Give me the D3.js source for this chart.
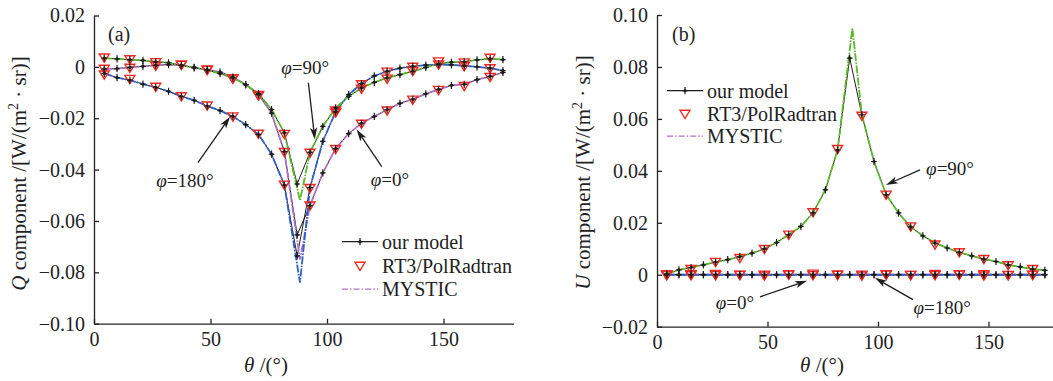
<!DOCTYPE html>
<html>
<head>
<meta charset="utf-8">
<script src="https://cdn.jsdelivr.net/npm/d3@7"></script>
<style>
  body { margin: 0; background: #fff; }
  svg { display: block; font-family: "Liberation Serif", "Times New Roman", serif; }
  .axis path, .axis line { stroke: #222; stroke-width: 1.3; }
  .axis text { font-size: 20px; fill: #222; font-family: "Liberation Serif", serif; }
  .lbl { fill: #222; }
</style>
</head>
<body>
<svg id="chart" width="1053" height="381"></svg>
<script>
// 模型输出的散射角 θ（度）
var theta = [4.4, 9.9, 15.4, 21.0, 26.5, 32.0, 37.5, 43.0, 48.6, 54.1, 59.6, 65.1, 70.6, 76.2, 81.7, 87.2,
  92.7, 98.2, 103.7, 109.3, 114.8, 120.3, 125.8, 131.3, 136.8, 142.4, 147.9, 153.4, 158.9, 164.4, 170.0, 175.5];
// RT3/PolRadtran 的角度点
var thetaRT3 = [4.4, 15.4, 26.5, 37.5, 48.6, 59.6, 70.6, 81.7, 92.7, 103.7, 114.8, 125.8, 136.8, 147.9, 158.9, 170.0];
// MYSTIC 的角度点（极值处更细）
var thetaMystic = [4.4, 9.9, 15.4, 21.0, 26.5, 32.0, 37.5, 43.0, 48.6, 54.1, 59.6, 65.1, 70.6, 76.2, 81.7, 88.4,
  92.7, 98.2, 103.7, 109.3, 114.8, 120.3, 125.8, 131.3, 136.8, 142.4, 147.9, 153.4, 158.9, 164.4, 170.0, 175.5];

var thetaTicks = [0, 50, 100, 150];
var qTicks = [-0.10, -0.08, -0.06, -0.04, -0.02, 0, 0.02];
var uTicks = [-0.02, 0, 0.02, 0.04, 0.06, 0.08, 0.10];

// Q 分量 —— 本文模型
var qModel0 = [-0.0008, -0.0007, -0.0002, 0.0002, 0.0006, 0.0009, 0.0006, -0.0004, -0.0011, -0.0020, -0.0040, -0.0069, -0.0108, -0.0180, -0.0330, -0.0654,
  -0.0540, -0.0413, -0.0318, -0.0260, -0.0220, -0.0193, -0.0167, -0.0142, -0.0126, -0.0105, -0.0088, -0.0072, -0.0068, -0.0050, -0.0037, -0.0022];
var qModel90 = [0.0034, 0.0031, 0.0028, 0.0025, 0.0020, 0.0016, 0.0006, -0.0002, -0.0013, -0.0026, -0.0043, -0.0069, -0.0104, -0.0166, -0.0257, -0.0456,
  -0.0333, -0.0232, -0.0160, -0.0115, -0.0082, -0.0060, -0.0043, -0.0030, -0.0017, -0.0002, 0.0012, 0.0018, 0.0020, 0.0027, 0.0032, 0.0028];
var qModel180 = [-0.0025, -0.0042, -0.0052, -0.0067, -0.0080, -0.0095, -0.0115, -0.0130, -0.0153, -0.0170, -0.0193, -0.0225, -0.0263, -0.0340, -0.0460, -0.0736,
  -0.0470, -0.0290, -0.0175, -0.0108, -0.0065, -0.0035, -0.0017, -0.0005, 0.0002, 0.0007, 0.0009, 0.0008, 0.0004, 0.0000, -0.0005, -0.0015];

// Q 分量 —— RT3/PolRadtran
var qRT3_0 = [-0.0008, -0.0004, 0.0004, 0.0008, -0.0012, -0.0046, -0.0110, -0.0332, -0.0540, -0.0320, -0.0222, -0.0170, -0.0128, -0.0090, -0.0075, -0.0040];
var qRT3_90 = [0.0036, 0.0029, 0.0018, 0.0008, -0.0010, -0.0045, -0.0112, -0.0262, -0.0335, -0.0170, -0.0085, -0.0046, -0.0016, 0.0021, 0.0017, 0.0035];
var qRT3_180 = [-0.0030, -0.0047, -0.0078, -0.0115, -0.0151, -0.0193, -0.0261, -0.0459, -0.0472, -0.0178, -0.0068, -0.0019, 0.0000, 0.0009, 0.0002, -0.0006];

// Q 分量 —— MYSTIC
var qMystic0 = [-0.0008, -0.0007, -0.0002, 0.0002, 0.0006, 0.0009, 0.0006, -0.0004, -0.0011, -0.0020, -0.0040, -0.0069, -0.0108, -0.0180, -0.0330, -0.0750,
  -0.0540, -0.0413, -0.0318, -0.0260, -0.0220, -0.0193, -0.0167, -0.0142, -0.0126, -0.0105, -0.0088, -0.0072, -0.0068, -0.0050, -0.0037, -0.0022];
var qMystic90 = [0.0034, 0.0031, 0.0028, 0.0025, 0.0020, 0.0016, 0.0006, -0.0002, -0.0013, -0.0026, -0.0043, -0.0069, -0.0104, -0.0166, -0.0257, -0.0520,
  -0.0333, -0.0232, -0.0160, -0.0115, -0.0082, -0.0060, -0.0043, -0.0030, -0.0017, -0.0002, 0.0012, 0.0018, 0.0020, 0.0027, 0.0032, 0.0028];
var qMystic180 = [-0.0025, -0.0042, -0.0052, -0.0067, -0.0080, -0.0095, -0.0115, -0.0130, -0.0153, -0.0170, -0.0193, -0.0225, -0.0263, -0.0340, -0.0460, -0.0840,
  -0.0470, -0.0290, -0.0175, -0.0108, -0.0065, -0.0035, -0.0017, -0.0005, 0.0002, 0.0007, 0.0009, 0.0008, 0.0004, 0.0000, -0.0005, -0.0015];

// U 分量 —— 本文模型
var uModel0 = [0, 0, 0, 0, 0, 0, 0, 0, 0, 0, 0, 0, 0, 0, 0, 0, 0, 0, 0, 0, 0, 0, 0, 0, 0, 0, 0, 0, 0, 0, 0, 0];
var uModel90 = [0.0003, 0.0019, 0.0028, 0.0038, 0.0049, 0.0058, 0.0070, 0.0083, 0.0100, 0.0124, 0.0154, 0.0186, 0.0238, 0.0327, 0.0480, 0.0834,
  0.0616, 0.0436, 0.0308, 0.0238, 0.0184, 0.0150, 0.0122, 0.0103, 0.0086, 0.0073, 0.0060, 0.0051, 0.0038, 0.0030, 0.0022, 0.0017];
var uModel180 = [0, 0, 0, 0, 0, 0, 0, 0, 0, 0, 0, 0, 0, 0, 0, 0, 0, 0, 0, 0, 0, 0, 0, 0, 0, 0, 0, 0, 0, 0, 0, 0];

// U 分量 —— RT3/PolRadtran
var uRT3_0 = [0.0000, -0.0002, 0.0003, -0.0001, 0.0000, 0.0002, 0.0004, -0.0001, 0.0000, 0.0002, -0.0001, 0.0003, 0.0000, 0.0002, -0.0001, 0.0000];
var uRT3_90 = [0.0002, 0.0022, 0.0049, 0.0064, 0.0099, 0.0154, 0.0240, 0.0484, 0.0612, 0.0308, 0.0186, 0.0116, 0.0086, 0.0060, 0.0036, 0.0022];
var uRT3_180 = [-0.0002, 0.0002, -0.0002, 0.0000, -0.0003, 0.0000, -0.0002, 0.0001, -0.0003, 0.0000, -0.0001, -0.0002, 0.0002, -0.0003, -0.0002, -0.0001];

// U 分量 —— MYSTIC
var uMystic0 = [0, 0, 0, 0, 0, 0, 0, 0, 0, 0, 0, 0, 0, 0, 0, 0, 0, 0, 0, 0, 0, 0, 0, 0, 0, 0, 0, 0, 0, 0, 0, 0];
var uMystic90 = [0.0003, 0.0019, 0.0028, 0.0038, 0.0049, 0.0058, 0.0070, 0.0083, 0.0100, 0.0124, 0.0154, 0.0186, 0.0238, 0.0327, 0.0480, 0.0950,
  0.0616, 0.0436, 0.0308, 0.0238, 0.0184, 0.0150, 0.0122, 0.0103, 0.0086, 0.0073, 0.0060, 0.0051, 0.0038, 0.0030, 0.0022, 0.0017];
var uMystic180 = [0, 0, 0, 0, 0, 0, 0, 0, 0, 0, 0, 0, 0, 0, 0, 0, 0, 0, 0, 0, 0, 0, 0, 0, 0, 0, 0, 0, 0, 0, 0, 0];

var C_GREEN = "#5cb82e", C_PURPLE = "#b072c6", C_BLUE = "#2d62c4", C_RED = "#ec2a22", C_INK = "#1e1e1e";
var DASH = "8,1.3,1.6,1.3";      // 曲线上的点划线，间隙较小
var DASH_LEG = "6,2,1.6,2";      // 图例里的点划线

var panels = [
  {
    tag: "(a)", varName: "Q",
    left: 94, right: 513.4, top: 15.5, bottom: 323.7,
    yDomain: [-0.10, 0.02], yTicks: qTicks,
    series: [
      { model: qModel0, rt3: qRT3_0, mystic: qMystic0, color: C_PURPLE },
      { model: qModel180, rt3: qRT3_180, mystic: qMystic180, color: C_BLUE },
      { model: qModel90, rt3: qRT3_90, mystic: qMystic90, color: C_GREEN }
    ],
    legend: { x: 342, y: 241.7, gap: 24.2 },
    tagPos: { x: 108, y: 41 },
    yTitle: { x: 26, y: 173.5 },
    xTitle: { x: 266, y: 372 },
    // φ 标注：文字中心与箭头（数据坐标）
    notes: [
      { phi: "90°", at: [90.6, -0.0003], from: [92.0, -0.0062], to: [94.8, -0.0283] },
      { phi: "180°", at: [39.0, -0.0443], from: [44.6, -0.0373], to: [58.4, -0.0194] },
      { phi: "0°", at: [127.0, -0.0439], from: [123.5, -0.0388], to: [112.7, -0.0244] }
    ]
  },
  {
    tag: "(b)", varName: "U",
    left: 657, right: 1054.8, top: 15, bottom: 326.7,
    yDomain: [-0.02, 0.10], yTicks: uTicks,
    series: [
      { model: uModel90, rt3: uRT3_90, mystic: uMystic90, color: C_GREEN },
      { model: uModel0, rt3: uRT3_0, mystic: uMystic0, color: C_PURPLE },
      { model: uModel180, rt3: uRT3_180, mystic: uMystic180, color: C_BLUE }
    ],
    legend: { x: 667, y: 90.7, gap: 23.2 },
    tagPos: { x: 672, y: 41 },
    yTitle: { x: 590, y: 172.5 },
    xTitle: { x: 822, y: 372 },
    notes: [
      { phi: "90°", at: [132.6, 0.0408], from: [119.0, 0.0404], to: [103.6, 0.0346] },
      { phi: "0°", at: [35.3, -0.0108], from: [46.6, -0.0085], to: [67.9, -0.0023] },
      { phi: "180°", at: [129.0, -0.0127], from: [115.8, -0.0096], to: [98.6, -0.0012] }
    ]
  }
];

var svg = d3.select("#chart");

var triPath = "M-5,-3.6L5,-3.6L0,4.6Z";
var plusPath = "M-2.8,0H2.8M0,-3.6V3.6";

function tickFmt(d) {
  return d === 0 ? "0" : d3.format(".2f")(d);
}

// 模型标记：十字加实心点
function drawModelMark(sel) {
  sel.append("path").attr("d", plusPath)
    .attr("stroke", C_INK).attr("stroke-width", 1.2).attr("fill", "none");
  sel.append("circle").attr("r", 1.6).attr("fill", C_INK);
}

// 带实心箭头的引线
function drawArrow(g, x1, y1, x2, y2) {
  var ang = Math.atan2(y2 - y1, x2 - x1), len = 12, hw = 3.6;
  var bx = x2 - len * Math.cos(ang), by = y2 - len * Math.sin(ang);
  var nx = -Math.sin(ang), ny = Math.cos(ang);
  var mx = x2 - (len - 3) * Math.cos(ang), my = y2 - (len - 3) * Math.sin(ang);
  g.append("line").attr("x1", x1).attr("y1", y1).attr("x2", mx).attr("y2", my)
    .attr("stroke", C_INK).attr("stroke-width", 1.3);
  g.append("path")
    .attr("d", "M" + x2 + "," + y2 + "L" + (bx + nx * hw) + "," + (by + ny * hw) +
      "L" + mx + "," + my + "L" + (bx - nx * hw) + "," + (by - ny * hw) + "Z")
    .attr("fill", C_INK);
}

function drawPanel(p) {
  var x = d3.scaleLinear().domain([0, 180]).range([p.left, p.right]);
  var y = d3.scaleLinear().domain(p.yDomain).range([p.bottom, p.top]);
  var g = svg.append("g");

  // 坐标轴，刻度朝内
  g.append("g").attr("class", "axis")
    .attr("transform", "translate(0," + p.bottom + ")")
    .call(d3.axisBottom(x).tickValues(thetaTicks).tickSizeInner(-5).tickSizeOuter(0)
      .tickPadding(8).tickFormat(d3.format("d")));
  g.append("g").attr("class", "axis")
    .attr("transform", "translate(" + p.left + ",0)")
    .call(d3.axisLeft(y).tickValues(p.yTicks).tickSizeInner(-5).tickSizeOuter(0)
      .tickPadding(9).tickFormat(tickFmt));

  var modelLine = d3.line().x(function (d) { return x(d[0]); }).y(function (d) { return y(d[1]); });

  // 先画黑色模型线，再叠加 MYSTIC 点划线
  p.series.forEach(function (s) {
    g.append("path").datum(d3.zip(theta, s.model)).attr("d", modelLine)
      .attr("fill", "none").attr("stroke", C_INK).attr("stroke-width", 1.0);
  });
  p.series.forEach(function (s) {
    g.append("path").datum(d3.zip(thetaMystic, s.mystic)).attr("d", modelLine)
      .attr("fill", "none").attr("stroke", s.color).attr("stroke-width", 1.8)
      .attr("stroke-dasharray", DASH);
  });
  // RT3 倒三角
  p.series.forEach(function (s) {
    g.selectAll(null).data(d3.zip(thetaRT3, s.rt3)).enter().append("path")
      .attr("d", triPath)
      .attr("transform", function (d) { return "translate(" + x(d[0]) + "," + y(d[1]) + ")"; })
      .attr("fill", "none").attr("stroke", C_RED).attr("stroke-width", 1.4);
  });
  // 模型数据点
  p.series.forEach(function (s) {
    g.selectAll(null).data(d3.zip(theta, s.model)).enter().append("g")
      .attr("transform", function (d) { return "translate(" + x(d[0]) + "," + y(d[1]) + ")"; })
      .call(drawModelMark);
  });

  // φ 标注
  p.notes.forEach(function (n) {
    var t = g.append("text").attr("class", "lbl")
      .attr("x", x(n.at[0])).attr("y", y(n.at[1])).attr("dy", "0.35em")
      .attr("text-anchor", "middle").attr("font-size", 19);
    t.append("tspan").attr("font-style", "italic").text("φ");
    t.append("tspan").text("=" + n.phi);
    drawArrow(g, x(n.from[0]), y(n.from[1]), x(n.to[0]), y(n.to[1]));
  });

  // 图例
  var L = p.legend;
  var lg = g.append("g").attr("transform", "translate(" + L.x + "," + L.y + ")");
  lg.append("line").attr("x1", 0).attr("x2", 36).attr("stroke", C_INK).attr("stroke-width", 1.2);
  lg.append("g").attr("transform", "translate(18,0)").call(drawModelMark);
  lg.append("path").attr("d", triPath).attr("transform", "translate(18," + L.gap + ")")
    .attr("fill", "none").attr("stroke", C_RED).attr("stroke-width", 1.4);
  lg.append("line").attr("x1", 0).attr("x2", 36).attr("y1", L.gap * 2 - 1).attr("y2", L.gap * 2 - 1)
    .attr("stroke", C_PURPLE).attr("stroke-width", 1.4).attr("stroke-dasharray", DASH_LEG);
  ["our model", "RT3/PolRadtran", "MYSTIC"].forEach(function (name, i) {
    lg.append("text").attr("class", "lbl").attr("x", 40).attr("y", i * L.gap - (i === 2 ? 1 : 0))
      .attr("dy", "0.35em").attr("font-size", 20).text(name);
  });

  // 子图编号
  g.append("text").attr("class", "lbl").attr("x", p.tagPos.x).attr("y", p.tagPos.y)
    .attr("font-size", 20).text(p.tag);

  // 轴标题
  var yt = g.append("text").attr("class", "lbl").attr("font-size", 21)
    .attr("text-anchor", "middle")
    .attr("transform", "translate(" + p.yTitle.x + "," + p.yTitle.y + ") rotate(-90)");
  yt.append("tspan").attr("font-style", "italic").text(p.varName);
  yt.append("tspan").text(" component /[W/(m");
  yt.append("tspan").attr("dy", -8).attr("font-size", 14).text("2");
  yt.append("tspan").attr("dy", 8).text(" · sr)]");

  var xt = g.append("text").attr("class", "lbl").attr("font-size", 21)
    .attr("text-anchor", "middle").attr("x", p.xTitle.x).attr("y", p.xTitle.y);
  xt.append("tspan").attr("font-style", "italic").text("θ");
  xt.append("tspan").text(" /(°)");
}

panels.forEach(drawPanel);
</script>
</body>
</html>
